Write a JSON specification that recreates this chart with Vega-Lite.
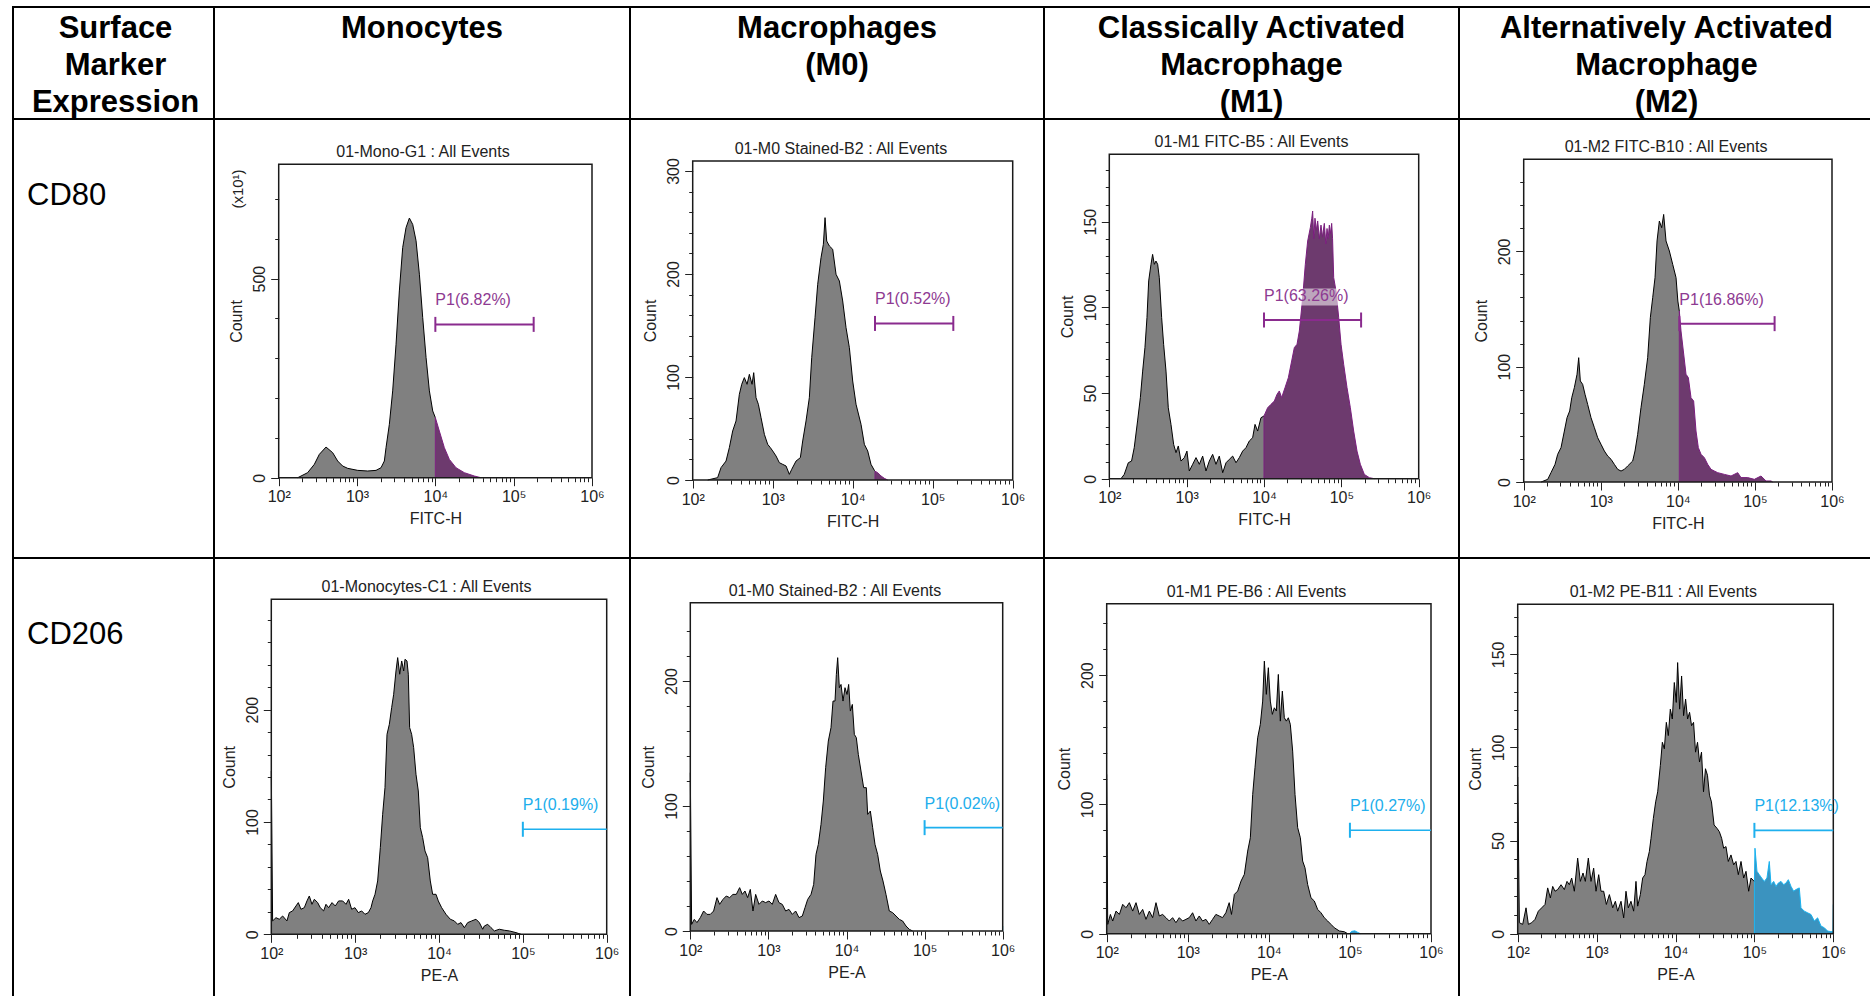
{
  "$schema": "https://vega.github.io/schema/vega-lite/v6.json",
  "background": "white",
  "padding": {"left": 12, "top": 6, "right": -18.5, "bottom": -12},
  "config": {
    "font": "Liberation Sans",
    "view": {"stroke": "#000000", "strokeWidth": 2},
    "concat": {"spacing": 0},
    "axis": {
      "domain": false, "grid": false, "labelFlush": false, "labelOverlap": false,
      "labelFont": "Liberation Sans", "titleFont": "Liberation Sans",
      "labelFontSize": 16, "titleFontSize": 16, "titleFontWeight": "normal",
      "labelColor": "#222222", "titleColor": "#222222", "tickColor": "#222222", "tickWidth": 1,
      "labelPadding": 3, "titlePadding": 6
    },
    "axisY": {"labelAngle": 270, "labelAlign": "center", "labelBaseline": "bottom", "titlePadding": 7}
  },
  "datasets": {
    "gates": [
      {"panel": "mono80", "title": "01-Mono-G1 : All Events", "start": 10000, "end": 180000, "level": 385, "label": "P1(6.82%)"},
      {"panel": "m080", "title": "01-M0 Stained-B2 : All Events", "start": 19000, "end": 181000, "level": 152, "label": "P1(0.52%)"},
      {"panel": "m180", "title": "01-M1 FITC-B5 : All Events", "start": 10000, "end": 180000, "level": 92.6, "label": "P1(63.26%)"},
      {"panel": "m280", "title": "01-M2 FITC-B10 : All Events", "start": 10450, "end": 180000, "level": 137.3, "label": "P1(16.86%)"},
      {"panel": "mono206", "title": "01-Monocytes-C1 : All Events", "start": 100000, "end": 1000000, "level": 93.5, "label": "P1(0.19%)"},
      {"panel": "m0206", "title": "01-M0 Stained-B2 : All Events", "start": 100000, "end": 1000000, "level": 82.7, "label": "P1(0.02%)"},
      {"panel": "m1206", "title": "01-M1 PE-B6 : All Events", "start": 100000, "end": 1000000, "level": 80, "label": "P1(0.27%)"},
      {"panel": "m2206", "title": "01-M2 PE-B11 : All Events", "start": 100000, "end": 1000000, "level": 55.5, "label": "P1(12.13%)"}
    ],
    "hist": [
      {"panel": "mono80", "part": "out", "x": 175, "count": 0},
      {"panel": "mono80", "part": "out", "x": 234, "count": 12.6},
      {"panel": "mono80", "part": "out", "x": 285, "count": 33.5},
      {"panel": "mono80", "part": "out", "x": 330, "count": 58.6},
      {"panel": "mono80", "part": "out", "x": 402, "count": 77},
      {"panel": "mono80", "part": "out", "x": 489, "count": 62.8},
      {"panel": "mono80", "part": "out", "x": 566, "count": 41.9},
      {"panel": "mono80", "part": "out", "x": 656, "count": 29.3},
      {"panel": "mono80", "part": "out", "x": 760, "count": 23.5},
      {"panel": "mono80", "part": "out", "x": 1020, "count": 18.4},
      {"panel": "mono80", "part": "out", "x": 1368, "count": 16.8},
      {"panel": "mono80", "part": "out", "x": 1749, "count": 18.4},
      {"panel": "mono80", "part": "out", "x": 2025, "count": 25.1},
      {"panel": "mono80", "part": "out", "x": 2233, "count": 41.9},
      {"panel": "mono80", "part": "out", "x": 2345, "count": 75.4},
      {"panel": "mono80", "part": "out", "x": 2587, "count": 134},
      {"panel": "mono80", "part": "out", "x": 2853, "count": 218},
      {"panel": "mono80", "part": "out", "x": 3148, "count": 335},
      {"panel": "mono80", "part": "out", "x": 3471, "count": 469},
      {"panel": "mono80", "part": "out", "x": 3829, "count": 578},
      {"panel": "mono80", "part": "out", "x": 4224, "count": 628},
      {"panel": "mono80", "part": "out", "x": 4660, "count": 652},
      {"panel": "mono80", "part": "out", "x": 5140, "count": 636},
      {"panel": "mono80", "part": "out", "x": 5670, "count": 595},
      {"panel": "mono80", "part": "out", "x": 6253, "count": 511},
      {"panel": "mono80", "part": "out", "x": 6898, "count": 402},
      {"panel": "mono80", "part": "out", "x": 7608, "count": 302},
      {"panel": "mono80", "part": "out", "x": 8392, "count": 218},
      {"panel": "mono80", "part": "out", "x": 9257, "count": 167.5},
      {"panel": "mono80", "part": "out", "x": 10000, "count": 150.8},
      {"panel": "mono80", "part": "fitc", "x": 10000, "count": 0},
      {"panel": "mono80", "part": "fitc", "x": 10000, "count": 150.8},
      {"panel": "mono80", "part": "fitc", "x": 11250, "count": 117},
      {"panel": "mono80", "part": "fitc", "x": 13030, "count": 75.4},
      {"panel": "mono80", "part": "fitc", "x": 15090, "count": 46},
      {"panel": "mono80", "part": "fitc", "x": 18360, "count": 25},
      {"panel": "mono80", "part": "fitc", "x": 23450, "count": 12.6},
      {"panel": "mono80", "part": "fitc", "x": 31460, "count": 4.2},
      {"panel": "mono80", "part": "fitc", "x": 38280, "count": 0},

      {"panel": "m080", "part": "out", "x": 154, "count": 0},
      {"panel": "m080", "part": "out", "x": 205, "count": 2.3},
      {"panel": "m080", "part": "out", "x": 226, "count": 12},
      {"panel": "m080", "part": "out", "x": 261, "count": 18.4},
      {"panel": "m080", "part": "out", "x": 287, "count": 31.4},
      {"panel": "m080", "part": "out", "x": 316, "count": 47.6},
      {"panel": "m080", "part": "out", "x": 348, "count": 57.3},
      {"panel": "m080", "part": "out", "x": 383, "count": 83.2},
      {"panel": "m080", "part": "out", "x": 410, "count": 92.9},
      {"panel": "m080", "part": "out", "x": 442, "count": 99.4},
      {"panel": "m080", "part": "out", "x": 478, "count": 92.9},
      {"panel": "m080", "part": "out", "x": 511, "count": 102.6},
      {"panel": "m080", "part": "out", "x": 552, "count": 92.9},
      {"panel": "m080", "part": "out", "x": 579, "count": 104.2},
      {"panel": "m080", "part": "out", "x": 619, "count": 79.9},
      {"panel": "m080", "part": "out", "x": 662, "count": 73.5},
      {"panel": "m080", "part": "out", "x": 715, "count": 60.5},
      {"panel": "m080", "part": "out", "x": 787, "count": 44.3},
      {"panel": "m080", "part": "out", "x": 866, "count": 34.6},
      {"panel": "m080", "part": "out", "x": 935, "count": 31.4},
      {"panel": "m080", "part": "out", "x": 1000, "count": 28.2},
      {"panel": "m080", "part": "out", "x": 1101, "count": 23.3},
      {"panel": "m080", "part": "out", "x": 1211, "count": 16.8},
      {"panel": "m080", "part": "out", "x": 1334, "count": 15.2},
      {"panel": "m080", "part": "out", "x": 1468, "count": 13.6},
      {"panel": "m080", "part": "out", "x": 1615, "count": 5.5},
      {"panel": "m080", "part": "out", "x": 1729, "count": 10.4},
      {"panel": "m080", "part": "out", "x": 1957, "count": 18.4},
      {"panel": "m080", "part": "out", "x": 2217, "count": 21.7},
      {"panel": "m080", "part": "out", "x": 2371, "count": 37.9},
      {"panel": "m080", "part": "out", "x": 2610, "count": 57.3},
      {"panel": "m080", "part": "out", "x": 2871, "count": 79.9},
      {"panel": "m080", "part": "out", "x": 3073, "count": 118.8},
      {"panel": "m080", "part": "out", "x": 3381, "count": 157.6},
      {"panel": "m080", "part": "out", "x": 3652, "count": 190},
      {"panel": "m080", "part": "out", "x": 4018, "count": 215.9},
      {"panel": "m080", "part": "out", "x": 4299, "count": 228.8},
      {"panel": "m080", "part": "out", "x": 4510, "count": 254.7},
      {"panel": "m080", "part": "out", "x": 4732, "count": 232},
      {"panel": "m080", "part": "out", "x": 5108, "count": 227.2},
      {"panel": "m080", "part": "out", "x": 5623, "count": 224},
      {"panel": "m080", "part": "out", "x": 6190, "count": 199.7},
      {"panel": "m080", "part": "out", "x": 6813, "count": 193.2},
      {"panel": "m080", "part": "out", "x": 7499, "count": 173.8},
      {"panel": "m080", "part": "out", "x": 8254, "count": 147.9},
      {"panel": "m080", "part": "out", "x": 9085, "count": 128.5},
      {"panel": "m080", "part": "out", "x": 10000, "count": 96.1},
      {"panel": "m080", "part": "out", "x": 11010, "count": 73.5},
      {"panel": "m080", "part": "out", "x": 12710, "count": 54},
      {"panel": "m080", "part": "out", "x": 13990, "count": 34.6},
      {"panel": "m080", "part": "out", "x": 15400, "count": 28.2},
      {"panel": "m080", "part": "out", "x": 16940, "count": 15.2},
      {"panel": "m080", "part": "out", "x": 18650, "count": 9.4},
      {"panel": "m080", "part": "out", "x": 19000, "count": 8.5},
      {"panel": "m080", "part": "fitc", "x": 19000, "count": 0},
      {"panel": "m080", "part": "fitc", "x": 19000, "count": 8.5},
      {"panel": "m080", "part": "fitc", "x": 20540, "count": 7.1},
      {"panel": "m080", "part": "fitc", "x": 22590, "count": 3.9},
      {"panel": "m080", "part": "fitc", "x": 24870, "count": 1.6},
      {"panel": "m080", "part": "fitc", "x": 27380, "count": 0},

      {"panel": "m180", "part": "out", "x": 141.5, "count": 0},
      {"panel": "m180", "part": "out", "x": 156, "count": 2.5},
      {"panel": "m180", "part": "out", "x": 176, "count": 9.3},
      {"panel": "m180", "part": "out", "x": 194, "count": 10.3},
      {"panel": "m180", "part": "out", "x": 210, "count": 18.1},
      {"panel": "m180", "part": "out", "x": 232, "count": 33.7},
      {"panel": "m180", "part": "out", "x": 252, "count": 47.3},
      {"panel": "m180", "part": "out", "x": 270, "count": 62.8},
      {"panel": "m180", "part": "out", "x": 289, "count": 76.5},
      {"panel": "m180", "part": "out", "x": 307, "count": 94},
      {"panel": "m180", "part": "out", "x": 323, "count": 115.4},
      {"panel": "m180", "part": "out", "x": 346, "count": 125.1},
      {"panel": "m180", "part": "out", "x": 363, "count": 130.9},
      {"panel": "m180", "part": "out", "x": 382, "count": 125.1},
      {"panel": "m180", "part": "out", "x": 401, "count": 127},
      {"panel": "m180", "part": "out", "x": 422, "count": 125.1},
      {"panel": "m180", "part": "out", "x": 443, "count": 117.3},
      {"panel": "m180", "part": "out", "x": 475, "count": 94},
      {"panel": "m180", "part": "out", "x": 504, "count": 78.4},
      {"panel": "m180", "part": "out", "x": 541, "count": 62.8},
      {"panel": "m180", "part": "out", "x": 579, "count": 41.4},
      {"panel": "m180", "part": "out", "x": 627, "count": 31.7},
      {"panel": "m180", "part": "out", "x": 679, "count": 20},
      {"panel": "m180", "part": "out", "x": 728, "count": 15.2},
      {"panel": "m180", "part": "out", "x": 780, "count": 19.1},
      {"panel": "m180", "part": "out", "x": 845, "count": 10.3},
      {"panel": "m180", "part": "out", "x": 933, "count": 12.3},
      {"panel": "m180", "part": "out", "x": 1009, "count": 16.1},
      {"panel": "m180", "part": "out", "x": 1082, "count": 4.5},
      {"panel": "m180", "part": "out", "x": 1196, "count": 8.4},
      {"panel": "m180", "part": "out", "x": 1321, "count": 12.3},
      {"panel": "m180", "part": "out", "x": 1459, "count": 8.4},
      {"panel": "m180", "part": "out", "x": 1611, "count": 13.2},
      {"panel": "m180", "part": "out", "x": 1778, "count": 4.5},
      {"panel": "m180", "part": "out", "x": 1963, "count": 10.3},
      {"panel": "m180", "part": "out", "x": 2168, "count": 14.2},
      {"panel": "m180", "part": "out", "x": 2394, "count": 8.4},
      {"panel": "m180", "part": "out", "x": 2643, "count": 13.2},
      {"panel": "m180", "part": "out", "x": 2924, "count": 3.5},
      {"panel": "m180", "part": "out", "x": 3228, "count": 9.3},
      {"panel": "m180", "part": "out", "x": 3565, "count": 11.3},
      {"panel": "m180", "part": "out", "x": 3936, "count": 13.2},
      {"panel": "m180", "part": "out", "x": 4345, "count": 9.3},
      {"panel": "m180", "part": "out", "x": 4797, "count": 12.3},
      {"panel": "m180", "part": "out", "x": 5297, "count": 16.1},
      {"panel": "m180", "part": "out", "x": 5848, "count": 18.1},
      {"panel": "m180", "part": "out", "x": 6457, "count": 22},
      {"panel": "m180", "part": "out", "x": 7129, "count": 23.9},
      {"panel": "m180", "part": "out", "x": 7656, "count": 31.7},
      {"panel": "m180", "part": "out", "x": 8282, "count": 27.8},
      {"panel": "m180", "part": "out", "x": 9144, "count": 35.6},
      {"panel": "m180", "part": "out", "x": 10000, "count": 36.6},
      {"panel": "m180", "part": "fitc", "x": 10000, "count": 0},
      {"panel": "m180", "part": "fitc", "x": 10000, "count": 36.6},
      {"panel": "m180", "part": "fitc", "x": 11140, "count": 41.4},
      {"panel": "m180", "part": "fitc", "x": 12320, "count": 43.4},
      {"panel": "m180", "part": "fitc", "x": 13600, "count": 45.3},
      {"panel": "m180", "part": "fitc", "x": 14720, "count": 49.2},
      {"panel": "m180", "part": "fitc", "x": 15780, "count": 51.2},
      {"panel": "m180", "part": "fitc", "x": 16910, "count": 47.3},
      {"panel": "m180", "part": "fitc", "x": 18690, "count": 53.1},
      {"panel": "m180", "part": "fitc", "x": 20640, "count": 58.9},
      {"panel": "m180", "part": "fitc", "x": 22790, "count": 68.7},
      {"panel": "m180", "part": "fitc", "x": 24670, "count": 76.5},
      {"panel": "m180", "part": "fitc", "x": 26720, "count": 78.4},
      {"panel": "m180", "part": "fitc", "x": 28640, "count": 86.2},
      {"panel": "m180", "part": "fitc", "x": 31620, "count": 105.6},
      {"panel": "m180", "part": "fitc", "x": 34220, "count": 125.1},
      {"panel": "m180", "part": "fitc", "x": 36700, "count": 138.7},
      {"panel": "m180", "part": "fitc", "x": 39720, "count": 146.5},
      {"panel": "m180", "part": "fitc", "x": 41500, "count": 152},
      {"panel": "m180", "part": "fitc", "x": 42560, "count": 156.2},
      {"panel": "m180", "part": "fitc", "x": 44000, "count": 140},
      {"panel": "m180", "part": "fitc", "x": 45600, "count": 152},
      {"panel": "m180", "part": "fitc", "x": 47500, "count": 145},
      {"panel": "m180", "part": "fitc", "x": 49420, "count": 150.4},
      {"panel": "m180", "part": "fitc", "x": 52000, "count": 140},
      {"panel": "m180", "part": "fitc", "x": 54550, "count": 148},
      {"panel": "m180", "part": "fitc", "x": 57000, "count": 141},
      {"panel": "m180", "part": "fitc", "x": 60230, "count": 149},
      {"panel": "m180", "part": "fitc", "x": 63000, "count": 137},
      {"panel": "m180", "part": "fitc", "x": 65270, "count": 146},
      {"panel": "m180", "part": "fitc", "x": 67500, "count": 140},
      {"panel": "m180", "part": "fitc", "x": 69950, "count": 148},
      {"panel": "m180", "part": "fitc", "x": 72500, "count": 143},
      {"panel": "m180", "part": "fitc", "x": 74990, "count": 149},
      {"panel": "m180", "part": "fitc", "x": 77000, "count": 140},
      {"panel": "m180", "part": "fitc", "x": 79620, "count": 117.3},
      {"panel": "m180", "part": "fitc", "x": 85320, "count": 109.5},
      {"panel": "m180", "part": "fitc", "x": 92400, "count": 94},
      {"panel": "m180", "part": "fitc", "x": 99100, "count": 78.4},
      {"panel": "m180", "part": "fitc", "x": 107200, "count": 66.7},
      {"panel": "m180", "part": "fitc", "x": 118400, "count": 53.1},
      {"panel": "m180", "part": "fitc", "x": 130700, "count": 41.4},
      {"panel": "m180", "part": "fitc", "x": 144300, "count": 27.8},
      {"panel": "m180", "part": "fitc", "x": 159400, "count": 16.1},
      {"panel": "m180", "part": "fitc", "x": 176000, "count": 8.4},
      {"panel": "m180", "part": "fitc", "x": 198300, "count": 2.5},
      {"panel": "m180", "part": "fitc", "x": 230100, "count": 0.6},
      {"panel": "m180", "part": "fitc", "x": 267300, "count": 0},

      {"panel": "m280", "part": "out", "x": 168, "count": 0},
      {"panel": "m280", "part": "out", "x": 205, "count": 2.3},
      {"panel": "m280", "part": "out", "x": 226, "count": 8.1},
      {"panel": "m280", "part": "out", "x": 255, "count": 15.3},
      {"panel": "m280", "part": "out", "x": 276, "count": 24},
      {"panel": "m280", "part": "out", "x": 305, "count": 29.8},
      {"panel": "m280", "part": "out", "x": 337, "count": 44.2},
      {"panel": "m280", "part": "out", "x": 365, "count": 55.8},
      {"panel": "m280", "part": "out", "x": 395, "count": 61.6},
      {"panel": "m280", "part": "out", "x": 420, "count": 73.1},
      {"panel": "m280", "part": "out", "x": 454, "count": 81.8},
      {"panel": "m280", "part": "out", "x": 492, "count": 93.4},
      {"panel": "m280", "part": "out", "x": 517, "count": 107.8},
      {"panel": "m280", "part": "out", "x": 543, "count": 87.6},
      {"panel": "m280", "part": "out", "x": 582, "count": 84.7},
      {"panel": "m280", "part": "out", "x": 625, "count": 76},
      {"panel": "m280", "part": "out", "x": 676, "count": 67.3},
      {"panel": "m280", "part": "out", "x": 747, "count": 55.8},
      {"panel": "m280", "part": "out", "x": 826, "count": 47.1},
      {"panel": "m280", "part": "out", "x": 912, "count": 38.4},
      {"panel": "m280", "part": "out", "x": 1007, "count": 32.7},
      {"panel": "m280", "part": "out", "x": 1113, "count": 26.9},
      {"panel": "m280", "part": "out", "x": 1230, "count": 22.5},
      {"panel": "m280", "part": "out", "x": 1358, "count": 19.7},
      {"panel": "m280", "part": "out", "x": 1500, "count": 15.3},
      {"panel": "m280", "part": "out", "x": 1657, "count": 11},
      {"panel": "m280", "part": "out", "x": 1831, "count": 9.5},
      {"panel": "m280", "part": "out", "x": 2023, "count": 11},
      {"panel": "m280", "part": "out", "x": 2234, "count": 13.9},
      {"panel": "m280", "part": "out", "x": 2594, "count": 18.2},
      {"panel": "m280", "part": "out", "x": 2780, "count": 26.9},
      {"panel": "m280", "part": "out", "x": 3010, "count": 41.3},
      {"panel": "m280", "part": "out", "x": 3325, "count": 64.5},
      {"panel": "m280", "part": "out", "x": 3673, "count": 84.7},
      {"panel": "m280", "part": "out", "x": 4059, "count": 107.8},
      {"panel": "m280", "part": "out", "x": 4396, "count": 142.5},
      {"panel": "m280", "part": "out", "x": 4716, "count": 159.8},
      {"panel": "m280", "part": "out", "x": 5057, "count": 177.2},
      {"panel": "m280", "part": "out", "x": 5370, "count": 209},
      {"panel": "m280", "part": "out", "x": 5755, "count": 226.3},
      {"panel": "m280", "part": "out", "x": 6171, "count": 220.5},
      {"panel": "m280", "part": "out", "x": 6546, "count": 232},
      {"panel": "m280", "part": "out", "x": 7023, "count": 209},
      {"panel": "m280", "part": "out", "x": 7762, "count": 200.3},
      {"panel": "m280", "part": "out", "x": 8575, "count": 188.7},
      {"panel": "m280", "part": "out", "x": 9472, "count": 177.2},
      {"panel": "m280", "part": "out", "x": 10000, "count": 156.9},
      {"panel": "m280", "part": "out", "x": 10450, "count": 148.3},
      {"panel": "m280", "part": "fitc", "x": 10450, "count": 0},
      {"panel": "m280", "part": "fitc", "x": 10450, "count": 148.3},
      {"panel": "m280", "part": "fitc", "x": 10990, "count": 130.9},
      {"panel": "m280", "part": "fitc", "x": 11780, "count": 113.6},
      {"panel": "m280", "part": "fitc", "x": 12760, "count": 93.4},
      {"panel": "m280", "part": "fitc", "x": 13680, "count": 90.5},
      {"panel": "m280", "part": "fitc", "x": 14820, "count": 73.1},
      {"panel": "m280", "part": "fitc", "x": 16030, "count": 70.2},
      {"panel": "m280", "part": "fitc", "x": 17200, "count": 44.2},
      {"panel": "m280", "part": "fitc", "x": 18440, "count": 29.8},
      {"panel": "m280", "part": "fitc", "x": 19990, "count": 24},
      {"panel": "m280", "part": "fitc", "x": 22080, "count": 21.1},
      {"panel": "m280", "part": "fitc", "x": 24390, "count": 15.3},
      {"panel": "m280", "part": "fitc", "x": 26940, "count": 11},
      {"panel": "m280", "part": "fitc", "x": 29760, "count": 9.5},
      {"panel": "m280", "part": "fitc", "x": 32870, "count": 8.1},
      {"panel": "m280", "part": "fitc", "x": 40120, "count": 6.6},
      {"panel": "m280", "part": "fitc", "x": 48970, "count": 5.2},
      {"panel": "m280", "part": "fitc", "x": 59760, "count": 8.1},
      {"panel": "m280", "part": "fitc", "x": 66000, "count": 3.8},
      {"panel": "m280", "part": "fitc", "x": 80540, "count": 3.8},
      {"panel": "m280", "part": "fitc", "x": 98270, "count": 2.3},
      {"panel": "m280", "part": "fitc", "x": 119900, "count": 5.2},
      {"panel": "m280", "part": "fitc", "x": 139300, "count": 0.9},
      {"panel": "m280", "part": "fitc", "x": 161800, "count": 0.9},
      {"panel": "m280", "part": "fitc", "x": 169900, "count": 0},

      {"panel": "mono206", "part": "out", "x": 100, "count": 145.4},
      {"panel": "mono206", "part": "out", "x": 103.7, "count": 11.9},
      {"panel": "mono206", "part": "out", "x": 113.7, "count": 14.8},
      {"panel": "mono206", "part": "out", "x": 124.6, "count": 13.4},
      {"panel": "mono206", "part": "out", "x": 136.5, "count": 16.3},
      {"panel": "mono206", "part": "out", "x": 153.7, "count": 11.9},
      {"panel": "mono206", "part": "out", "x": 164, "count": 19.3},
      {"panel": "mono206", "part": "out", "x": 179.6, "count": 20.8},
      {"panel": "mono206", "part": "out", "x": 196.8, "count": 25.2},
      {"panel": "mono206", "part": "out", "x": 209.9, "count": 28.2},
      {"panel": "mono206", "part": "out", "x": 225.9, "count": 22.3},
      {"panel": "mono206", "part": "out", "x": 247.5, "count": 23.7},
      {"panel": "mono206", "part": "out", "x": 266.3, "count": 29.7},
      {"panel": "mono206", "part": "out", "x": 284, "count": 34.1},
      {"panel": "mono206", "part": "out", "x": 305.5, "count": 26.7},
      {"panel": "mono206", "part": "out", "x": 326, "count": 31.2},
      {"panel": "mono206", "part": "out", "x": 357, "count": 28.2},
      {"panel": "mono206", "part": "out", "x": 383.8, "count": 23.7},
      {"panel": "mono206", "part": "out", "x": 420.9, "count": 20.8},
      {"panel": "mono206", "part": "out", "x": 448.7, "count": 26.7},
      {"panel": "mono206", "part": "out", "x": 482.8, "count": 23.7},
      {"panel": "mono206", "part": "out", "x": 529.6, "count": 28.2},
      {"panel": "mono206", "part": "out", "x": 579.8, "count": 25.2},
      {"panel": "mono206", "part": "out", "x": 635.4, "count": 29.7},
      {"panel": "mono206", "part": "out", "x": 709.5, "count": 29.7},
      {"panel": "mono206", "part": "out", "x": 777.5, "count": 26.7},
      {"panel": "mono206", "part": "out", "x": 836.4, "count": 31.2},
      {"panel": "mono206", "part": "out", "x": 907.8, "count": 22.3},
      {"panel": "mono206", "part": "out", "x": 995, "count": 23.7},
      {"panel": "mono206", "part": "out", "x": 1091, "count": 19.3},
      {"panel": "mono206", "part": "out", "x": 1196, "count": 20.8},
      {"panel": "mono206", "part": "out", "x": 1310, "count": 17.8},
      {"panel": "mono206", "part": "out", "x": 1436, "count": 19.3},
      {"panel": "mono206", "part": "out", "x": 1545, "count": 23.7},
      {"panel": "mono206", "part": "out", "x": 1618, "count": 29.7},
      {"panel": "mono206", "part": "out", "x": 1726, "count": 35.6},
      {"panel": "mono206", "part": "out", "x": 1855, "count": 47.5},
      {"panel": "mono206", "part": "out", "x": 1996, "count": 77.2},
      {"panel": "mono206", "part": "out", "x": 2128, "count": 106.8},
      {"panel": "mono206", "part": "out", "x": 2269, "count": 130.6},
      {"panel": "mono206", "part": "out", "x": 2398, "count": 178},
      {"panel": "mono206", "part": "out", "x": 2557, "count": 186.9},
      {"panel": "mono206", "part": "out", "x": 2726, "count": 201.8},
      {"panel": "mono206", "part": "out", "x": 2880, "count": 213.6},
      {"panel": "mono206", "part": "out", "x": 3070, "count": 234.4},
      {"panel": "mono206", "part": "out", "x": 3215, "count": 246.3},
      {"panel": "mono206", "part": "out", "x": 3398, "count": 231.5},
      {"panel": "mono206", "part": "out", "x": 3590, "count": 243.3},
      {"panel": "mono206", "part": "out", "x": 3793, "count": 234.4},
      {"panel": "mono206", "part": "out", "x": 3930, "count": 244.8},
      {"panel": "mono206", "part": "out", "x": 4152, "count": 243.3},
      {"panel": "mono206", "part": "out", "x": 4305, "count": 231.5},
      {"panel": "mono206", "part": "out", "x": 4465, "count": 184},
      {"panel": "mono206", "part": "out", "x": 4718, "count": 178},
      {"panel": "mono206", "part": "out", "x": 4985, "count": 166.2},
      {"panel": "mono206", "part": "out", "x": 5317, "count": 142.4},
      {"panel": "mono206", "part": "out", "x": 5665, "count": 127.6},
      {"panel": "mono206", "part": "out", "x": 5985, "count": 95},
      {"panel": "mono206", "part": "out", "x": 6383, "count": 86.1},
      {"panel": "mono206", "part": "out", "x": 6807, "count": 74.2},
      {"panel": "mono206", "part": "out", "x": 7323, "count": 68.2},
      {"panel": "mono206", "part": "out", "x": 7877, "count": 47.5},
      {"panel": "mono206", "part": "out", "x": 8400, "count": 35.6},
      {"panel": "mono206", "part": "out", "x": 9207, "count": 35.6},
      {"panel": "mono206", "part": "out", "x": 9816, "count": 29.7},
      {"panel": "mono206", "part": "out", "x": 10760, "count": 23.7},
      {"panel": "mono206", "part": "out", "x": 12110, "count": 17.8},
      {"panel": "mono206", "part": "out", "x": 13640, "count": 13.4},
      {"panel": "mono206", "part": "out", "x": 15230, "count": 11.9},
      {"panel": "mono206", "part": "out", "x": 16700, "count": 8.9},
      {"panel": "mono206", "part": "out", "x": 18300, "count": 10.4},
      {"panel": "mono206", "part": "out", "x": 20060, "count": 5.9},
      {"panel": "mono206", "part": "out", "x": 21990, "count": 10.4},
      {"panel": "mono206", "part": "out", "x": 24540, "count": 11.9},
      {"panel": "mono206", "part": "out", "x": 27630, "count": 13.4},
      {"panel": "mono206", "part": "out", "x": 30290, "count": 10.4},
      {"panel": "mono206", "part": "out", "x": 33200, "count": 4.5},
      {"panel": "mono206", "part": "out", "x": 34750, "count": 7.4},
      {"panel": "mono206", "part": "out", "x": 38090, "count": 8.9},
      {"panel": "mono206", "part": "out", "x": 41730, "count": 5.9},
      {"panel": "mono206", "part": "out", "x": 45740, "count": 3},
      {"panel": "mono206", "part": "out", "x": 52460, "count": 4.5},
      {"panel": "mono206", "part": "out", "x": 60140, "count": 3.6},
      {"panel": "mono206", "part": "out", "x": 69000, "count": 3},
      {"panel": "mono206", "part": "out", "x": 82800, "count": 1.5},
      {"panel": "mono206", "part": "out", "x": 95100, "count": 0},

      {"panel": "m0206", "part": "out", "x": 100, "count": 126.7},
      {"panel": "m0206", "part": "out", "x": 104, "count": 5.3},
      {"panel": "m0206", "part": "out", "x": 112.5, "count": 9.3},
      {"panel": "m0206", "part": "out", "x": 121.7, "count": 6.7},
      {"panel": "m0206", "part": "out", "x": 134.3, "count": 10.7},
      {"panel": "m0206", "part": "out", "x": 148.1, "count": 16},
      {"panel": "m0206", "part": "out", "x": 163.5, "count": 13.3},
      {"panel": "m0206", "part": "out", "x": 180.4, "count": 13.3},
      {"panel": "m0206", "part": "out", "x": 199, "count": 16},
      {"panel": "m0206", "part": "out", "x": 219.6, "count": 26.7},
      {"panel": "m0206", "part": "out", "x": 237.5, "count": 21.3},
      {"panel": "m0206", "part": "out", "x": 262, "count": 25.3},
      {"panel": "m0206", "part": "out", "x": 289.1, "count": 28},
      {"panel": "m0206", "part": "out", "x": 318.9, "count": 26.7},
      {"panel": "m0206", "part": "out", "x": 351.9, "count": 29.3},
      {"panel": "m0206", "part": "out", "x": 388.2, "count": 29.3},
      {"panel": "m0206", "part": "out", "x": 428.3, "count": 34.7},
      {"panel": "m0206", "part": "out", "x": 463.3, "count": 29.3},
      {"panel": "m0206", "part": "out", "x": 501.2, "count": 32},
      {"panel": "m0206", "part": "out", "x": 542.2, "count": 26.7},
      {"panel": "m0206", "part": "out", "x": 586.6, "count": 33.3},
      {"panel": "m0206", "part": "out", "x": 634.6, "count": 16},
      {"panel": "m0206", "part": "out", "x": 686.5, "count": 29.3},
      {"panel": "m0206", "part": "out", "x": 757.4, "count": 21.3},
      {"panel": "m0206", "part": "out", "x": 835.6, "count": 24},
      {"panel": "m0206", "part": "out", "x": 922, "count": 22.7},
      {"panel": "m0206", "part": "out", "x": 1017, "count": 24},
      {"panel": "m0206", "part": "out", "x": 1122, "count": 21.3},
      {"panel": "m0206", "part": "out", "x": 1238, "count": 29.3},
      {"panel": "m0206", "part": "out", "x": 1366, "count": 22.7},
      {"panel": "m0206", "part": "out", "x": 1507, "count": 21.3},
      {"panel": "m0206", "part": "out", "x": 1663, "count": 16},
      {"panel": "m0206", "part": "out", "x": 1835, "count": 17.3},
      {"panel": "m0206", "part": "out", "x": 2024, "count": 13.3},
      {"panel": "m0206", "part": "out", "x": 2233, "count": 16},
      {"panel": "m0206", "part": "out", "x": 2464, "count": 10.7},
      {"panel": "m0206", "part": "out", "x": 2718, "count": 12},
      {"panel": "m0206", "part": "out", "x": 2942, "count": 18.7},
      {"panel": "m0206", "part": "out", "x": 3183, "count": 25.3},
      {"panel": "m0206", "part": "out", "x": 3512, "count": 29.3},
      {"panel": "m0206", "part": "out", "x": 3800, "count": 37.3},
      {"panel": "m0206", "part": "out", "x": 4068, "count": 61.3},
      {"panel": "m0206", "part": "out", "x": 4357, "count": 69.3},
      {"panel": "m0206", "part": "out", "x": 4714, "count": 85.3},
      {"panel": "m0206", "part": "out", "x": 5049, "count": 104},
      {"panel": "m0206", "part": "out", "x": 5408, "count": 130.7},
      {"panel": "m0206", "part": "out", "x": 5851, "count": 152},
      {"panel": "m0206", "part": "out", "x": 6330, "count": 162.7},
      {"panel": "m0206", "part": "out", "x": 6719, "count": 184},
      {"panel": "m0206", "part": "out", "x": 7126, "count": 184},
      {"panel": "m0206", "part": "out", "x": 7413, "count": 205.3},
      {"panel": "m0206", "part": "out", "x": 7710, "count": 218.7},
      {"panel": "m0206", "part": "out", "x": 8095, "count": 194.7},
      {"panel": "m0206", "part": "out", "x": 8508, "count": 197.3},
      {"panel": "m0206", "part": "out", "x": 9023, "count": 184},
      {"panel": "m0206", "part": "out", "x": 9569, "count": 194.7},
      {"panel": "m0206", "part": "out", "x": 10150, "count": 189.3},
      {"panel": "m0206", "part": "out", "x": 10660, "count": 197.3},
      {"panel": "m0206", "part": "out", "x": 11200, "count": 176},
      {"panel": "m0206", "part": "out", "x": 11880, "count": 181.3},
      {"panel": "m0206", "part": "out", "x": 12600, "count": 157.3},
      {"panel": "m0206", "part": "out", "x": 13360, "count": 154.7},
      {"panel": "m0206", "part": "out", "x": 14170, "count": 141.3},
      {"panel": "m0206", "part": "out", "x": 15330, "count": 128},
      {"panel": "m0206", "part": "out", "x": 16590, "count": 114.7},
      {"panel": "m0206", "part": "out", "x": 17950, "count": 114.7},
      {"panel": "m0206", "part": "out", "x": 18670, "count": 93.3},
      {"panel": "m0206", "part": "out", "x": 20200, "count": 96},
      {"panel": "m0206", "part": "out", "x": 21630, "count": 82.7},
      {"panel": "m0206", "part": "out", "x": 23170, "count": 69.3},
      {"panel": "m0206", "part": "out", "x": 25060, "count": 61.3},
      {"panel": "m0206", "part": "out", "x": 27110, "count": 48},
      {"panel": "m0206", "part": "out", "x": 29320, "count": 40},
      {"panel": "m0206", "part": "out", "x": 32030, "count": 29.3},
      {"panel": "m0206", "part": "out", "x": 35330, "count": 16},
      {"panel": "m0206", "part": "out", "x": 38980, "count": 14.7},
      {"panel": "m0206", "part": "out", "x": 43010, "count": 12},
      {"panel": "m0206", "part": "out", "x": 47500, "count": 9.3},
      {"panel": "m0206", "part": "out", "x": 52330, "count": 8},
      {"panel": "m0206", "part": "out", "x": 57790, "count": 4},
      {"panel": "m0206", "part": "out", "x": 63810, "count": 1.3},
      {"panel": "m0206", "part": "out", "x": 70340, "count": 0},
      {"panel": "m0206", "part": "pe", "x": 1000000, "count": 0},
      {"panel": "m0206", "part": "pe", "x": 1000000, "count": 4},

      {"panel": "m1206", "part": "out", "x": 100, "count": 123.2},
      {"panel": "m1206", "part": "out", "x": 102.9, "count": 7.2},
      {"panel": "m1206", "part": "out", "x": 111, "count": 14.9},
      {"panel": "m1206", "part": "out", "x": 118.6, "count": 9.8},
      {"panel": "m1206", "part": "out", "x": 130.4, "count": 17.5},
      {"panel": "m1206", "part": "out", "x": 143.3, "count": 14.9},
      {"panel": "m1206", "part": "out", "x": 157.5, "count": 22.7},
      {"panel": "m1206", "part": "out", "x": 173.1, "count": 20.1},
      {"panel": "m1206", "part": "out", "x": 190.3, "count": 24},
      {"panel": "m1206", "part": "out", "x": 209.2, "count": 17.5},
      {"panel": "m1206", "part": "out", "x": 229.9, "count": 24},
      {"panel": "m1206", "part": "out", "x": 252.7, "count": 14.9},
      {"panel": "m1206", "part": "out", "x": 277.7, "count": 18.8},
      {"panel": "m1206", "part": "out", "x": 305.3, "count": 11.1},
      {"panel": "m1206", "part": "out", "x": 335.6, "count": 17.5},
      {"panel": "m1206", "part": "out", "x": 368.8, "count": 12.4},
      {"panel": "m1206", "part": "out", "x": 405.4, "count": 24},
      {"panel": "m1206", "part": "out", "x": 445.6, "count": 13.7},
      {"panel": "m1206", "part": "out", "x": 489.7, "count": 14.9},
      {"panel": "m1206", "part": "out", "x": 538.3, "count": 12.4},
      {"panel": "m1206", "part": "out", "x": 591.6, "count": 9.8},
      {"panel": "m1206", "part": "out", "x": 650.3, "count": 12.4},
      {"panel": "m1206", "part": "out", "x": 714.8, "count": 8.5},
      {"panel": "m1206", "part": "out", "x": 785.6, "count": 12.4},
      {"panel": "m1206", "part": "out", "x": 863.5, "count": 9.8},
      {"panel": "m1206", "part": "out", "x": 949.2, "count": 11.1},
      {"panel": "m1206", "part": "out", "x": 1043, "count": 12.4},
      {"panel": "m1206", "part": "out", "x": 1147, "count": 16.2},
      {"panel": "m1206", "part": "out", "x": 1260, "count": 9.8},
      {"panel": "m1206", "part": "out", "x": 1385, "count": 13.7},
      {"panel": "m1206", "part": "out", "x": 1523, "count": 9.8},
      {"panel": "m1206", "part": "out", "x": 1674, "count": 11.1},
      {"panel": "m1206", "part": "out", "x": 1840, "count": 7.2},
      {"panel": "m1206", "part": "out", "x": 2022, "count": 11.1},
      {"panel": "m1206", "part": "out", "x": 2222, "count": 14.9},
      {"panel": "m1206", "part": "out", "x": 2442, "count": 13.7},
      {"panel": "m1206", "part": "out", "x": 2684, "count": 12.4},
      {"panel": "m1206", "part": "out", "x": 2950, "count": 16.2},
      {"panel": "m1206", "part": "out", "x": 3243, "count": 24},
      {"panel": "m1206", "part": "out", "x": 3461, "count": 14.9},
      {"panel": "m1206", "part": "out", "x": 3756, "count": 30.4},
      {"panel": "m1206", "part": "out", "x": 4128, "count": 33},
      {"panel": "m1206", "part": "out", "x": 4537, "count": 40.7},
      {"panel": "m1206", "part": "out", "x": 4987, "count": 45.9},
      {"panel": "m1206", "part": "out", "x": 5481, "count": 63.9},
      {"panel": "m1206", "part": "out", "x": 5912, "count": 74.2},
      {"panel": "m1206", "part": "out", "x": 6320, "count": 107.7},
      {"panel": "m1206", "part": "out", "x": 6747, "count": 128.4},
      {"panel": "m1206", "part": "out", "x": 7278, "count": 151.5},
      {"panel": "m1206", "part": "out", "x": 7850, "count": 161.9},
      {"panel": "m1206", "part": "out", "x": 8392, "count": 179.9},
      {"panel": "m1206", "part": "out", "x": 8800, "count": 210.8},
      {"panel": "m1206", "part": "out", "x": 9312, "count": 185.1},
      {"panel": "m1206", "part": "out", "x": 9860, "count": 205.7},
      {"panel": "m1206", "part": "out", "x": 10430, "count": 179.9},
      {"panel": "m1206", "part": "out", "x": 11040, "count": 169.6},
      {"panel": "m1206", "part": "out", "x": 11680, "count": 174.7},
      {"panel": "m1206", "part": "out", "x": 12370, "count": 172.2},
      {"panel": "m1206", "part": "out", "x": 13090, "count": 200.5},
      {"panel": "m1206", "part": "out", "x": 13860, "count": 164.4},
      {"panel": "m1206", "part": "out", "x": 14670, "count": 187.6},
      {"panel": "m1206", "part": "out", "x": 15520, "count": 167},
      {"panel": "m1206", "part": "out", "x": 16430, "count": 164.4},
      {"panel": "m1206", "part": "out", "x": 17390, "count": 167},
      {"panel": "m1206", "part": "out", "x": 18400, "count": 161.9},
      {"panel": "m1206", "part": "out", "x": 19670, "count": 141.2},
      {"panel": "m1206", "part": "out", "x": 21030, "count": 107.7},
      {"panel": "m1206", "part": "out", "x": 22680, "count": 82},
      {"panel": "m1206", "part": "out", "x": 24460, "count": 74.2},
      {"panel": "m1206", "part": "out", "x": 26120, "count": 56.2},
      {"panel": "m1206", "part": "out", "x": 27900, "count": 51},
      {"panel": "m1206", "part": "out", "x": 30100, "count": 38.1},
      {"panel": "m1206", "part": "out", "x": 33080, "count": 27.8},
      {"panel": "m1206", "part": "out", "x": 36360, "count": 25.3},
      {"panel": "m1206", "part": "out", "x": 39960, "count": 18.8},
      {"panel": "m1206", "part": "out", "x": 43920, "count": 16.2},
      {"panel": "m1206", "part": "out", "x": 48270, "count": 12.4},
      {"panel": "m1206", "part": "out", "x": 53160, "count": 9.8},
      {"panel": "m1206", "part": "out", "x": 58430, "count": 7.2},
      {"panel": "m1206", "part": "out", "x": 64220, "count": 4.6},
      {"panel": "m1206", "part": "out", "x": 74070, "count": 2.1},
      {"panel": "m1206", "part": "out", "x": 85340, "count": 1.5},
      {"panel": "m1206", "part": "out", "x": 93770, "count": 0},
      {"panel": "m1206", "part": "pe", "x": 100000, "count": 0},
      {"panel": "m1206", "part": "pe", "x": 100000, "count": 0.5},
      {"panel": "m1206", "part": "pe", "x": 105000, "count": 1.8},
      {"panel": "m1206", "part": "pe", "x": 115000, "count": 2.2},
      {"panel": "m1206", "part": "pe", "x": 125000, "count": 1},
      {"panel": "m1206", "part": "pe", "x": 135000, "count": 0},

      {"panel": "m2206", "part": "out", "x": 100, "count": 84.2},
      {"panel": "m2206", "part": "out", "x": 105, "count": 5.9},
      {"panel": "m2206", "part": "out", "x": 115.7, "count": 5},
      {"panel": "m2206", "part": "out", "x": 127.5, "count": 13.9},
      {"panel": "m2206", "part": "out", "x": 136.5, "count": 5},
      {"panel": "m2206", "part": "out", "x": 150.4, "count": 5.9},
      {"panel": "m2206", "part": "out", "x": 165.8, "count": 7.7},
      {"panel": "m2206", "part": "out", "x": 182.7, "count": 12.1},
      {"panel": "m2206", "part": "out", "x": 201.4, "count": 13.9},
      {"panel": "m2206", "part": "out", "x": 222, "count": 15.7},
      {"panel": "m2206", "part": "out", "x": 239.9, "count": 24.6},
      {"panel": "m2206", "part": "out", "x": 259.4, "count": 19.2},
      {"panel": "m2206", "part": "out", "x": 277.7, "count": 25.4},
      {"panel": "m2206", "part": "out", "x": 297.2, "count": 22.8},
      {"panel": "m2206", "part": "out", "x": 321.2, "count": 23.7},
      {"panel": "m2206", "part": "out", "x": 354, "count": 26.3},
      {"panel": "m2206", "part": "out", "x": 390.2, "count": 23.7},
      {"panel": "m2206", "part": "out", "x": 421.7, "count": 28.1},
      {"panel": "m2206", "part": "out", "x": 451.6, "count": 26.3},
      {"panel": "m2206", "part": "out", "x": 483.1, "count": 29.9},
      {"panel": "m2206", "part": "out", "x": 522.2, "count": 22.8},
      {"panel": "m2206", "part": "out", "x": 575.5, "count": 40.6},
      {"panel": "m2206", "part": "out", "x": 622.1, "count": 28.1},
      {"panel": "m2206", "part": "out", "x": 672.5, "count": 32.6},
      {"panel": "m2206", "part": "out", "x": 719.6, "count": 28.1},
      {"panel": "m2206", "part": "out", "x": 785.6, "count": 40.6},
      {"panel": "m2206", "part": "out", "x": 849.1, "count": 28.1},
      {"panel": "m2206", "part": "out", "x": 917.8, "count": 35.2},
      {"panel": "m2206", "part": "out", "x": 983.5, "count": 22.8},
      {"panel": "m2206", "part": "out", "x": 1063, "count": 31.7},
      {"panel": "m2206", "part": "out", "x": 1137, "count": 22.8},
      {"panel": "m2206", "part": "out", "x": 1229, "count": 22.8},
      {"panel": "m2206", "part": "out", "x": 1329, "count": 15.7},
      {"panel": "m2206", "part": "out", "x": 1452, "count": 21},
      {"panel": "m2206", "part": "out", "x": 1600, "count": 13.9},
      {"panel": "m2206", "part": "out", "x": 1729, "count": 17.4},
      {"panel": "m2206", "part": "out", "x": 1850, "count": 12.1},
      {"panel": "m2206", "part": "out", "x": 2039, "count": 17.4},
      {"panel": "m2206", "part": "out", "x": 2204, "count": 8.5},
      {"panel": "m2206", "part": "out", "x": 2358, "count": 22.8},
      {"panel": "m2206", "part": "out", "x": 2523, "count": 13.9},
      {"panel": "m2206", "part": "out", "x": 2727, "count": 17.4},
      {"panel": "m2206", "part": "out", "x": 2948, "count": 12.1},
      {"panel": "m2206", "part": "out", "x": 3155, "count": 28.1},
      {"panel": "m2206", "part": "out", "x": 3316, "count": 14.8},
      {"panel": "m2206", "part": "out", "x": 3584, "count": 21},
      {"panel": "m2206", "part": "out", "x": 3835, "count": 29.9},
      {"panel": "m2206", "part": "out", "x": 4104, "count": 31.7},
      {"panel": "m2206", "part": "out", "x": 4355, "count": 38.8},
      {"panel": "m2206", "part": "out", "x": 4661, "count": 44.1},
      {"panel": "m2206", "part": "out", "x": 4893, "count": 51.2},
      {"panel": "m2206", "part": "out", "x": 5237, "count": 61.9},
      {"panel": "m2206", "part": "out", "x": 5605, "count": 70.8},
      {"panel": "m2206", "part": "out", "x": 5946, "count": 76.2},
      {"panel": "m2206", "part": "out", "x": 6428, "count": 90.4},
      {"panel": "m2206", "part": "out", "x": 6813, "count": 102.8},
      {"panel": "m2206", "part": "out", "x": 7221, "count": 99.3},
      {"panel": "m2206", "part": "out", "x": 7653, "count": 113.5},
      {"panel": "m2206", "part": "out", "x": 8111, "count": 106.4},
      {"panel": "m2206", "part": "out", "x": 8596, "count": 120.6},
      {"panel": "m2206", "part": "out", "x": 9110, "count": 115.3},
      {"panel": "m2206", "part": "out", "x": 9655, "count": 134.9},
      {"panel": "m2206", "part": "out", "x": 10230, "count": 124.2},
      {"panel": "m2206", "part": "out", "x": 10640, "count": 145.6},
      {"panel": "m2206", "part": "out", "x": 11280, "count": 120.6},
      {"panel": "m2206", "part": "out", "x": 11950, "count": 138.4},
      {"panel": "m2206", "part": "out", "x": 12670, "count": 117.1},
      {"panel": "m2206", "part": "out", "x": 13430, "count": 126},
      {"panel": "m2206", "part": "out", "x": 14230, "count": 115.3},
      {"panel": "m2206", "part": "out", "x": 15080, "count": 118.9},
      {"panel": "m2206", "part": "out", "x": 15980, "count": 111.7},
      {"panel": "m2206", "part": "out", "x": 16940, "count": 113.5},
      {"panel": "m2206", "part": "out", "x": 17950, "count": 97.5},
      {"panel": "m2206", "part": "out", "x": 19020, "count": 102.8},
      {"panel": "m2206", "part": "out", "x": 20160, "count": 92.2},
      {"panel": "m2206", "part": "out", "x": 21360, "count": 97.5},
      {"panel": "m2206", "part": "out", "x": 22640, "count": 76.2},
      {"panel": "m2206", "part": "out", "x": 23990, "count": 88.6},
      {"panel": "m2206", "part": "out", "x": 25430, "count": 85.1},
      {"panel": "m2206", "part": "out", "x": 26950, "count": 74.4},
      {"panel": "m2206", "part": "out", "x": 28560, "count": 70.8},
      {"panel": "m2206", "part": "out", "x": 30830, "count": 58.4},
      {"panel": "m2206", "part": "out", "x": 33570, "count": 56.6},
      {"panel": "m2206", "part": "out", "x": 35940, "count": 54.8},
      {"panel": "m2206", "part": "out", "x": 38460, "count": 51.2},
      {"panel": "m2206", "part": "out", "x": 40760, "count": 45.9},
      {"panel": "m2206", "part": "out", "x": 43620, "count": 46.8},
      {"panel": "m2206", "part": "out", "x": 46690, "count": 38.8},
      {"panel": "m2206", "part": "out", "x": 50490, "count": 42.3},
      {"panel": "m2206", "part": "out", "x": 54590, "count": 37},
      {"panel": "m2206", "part": "out", "x": 58440, "count": 38.8},
      {"panel": "m2206", "part": "out", "x": 62560, "count": 31.7},
      {"panel": "m2206", "part": "out", "x": 67640, "count": 38.8},
      {"panel": "m2206", "part": "out", "x": 73130, "count": 29.9},
      {"panel": "m2206", "part": "out", "x": 78270, "count": 33.5},
      {"panel": "m2206", "part": "out", "x": 84620, "count": 22.8},
      {"panel": "m2206", "part": "out", "x": 90580, "count": 29.9},
      {"panel": "m2206", "part": "out", "x": 100000, "count": 28},
      {"panel": "m2206", "part": "pe", "x": 100000, "count": 0},
      {"panel": "m2206", "part": "pe", "x": 100000, "count": 28},
      {"panel": "m2206", "part": "pe", "x": 101700, "count": 45.9},
      {"panel": "m2206", "part": "pe", "x": 107800, "count": 33.5},
      {"panel": "m2206", "part": "pe", "x": 115400, "count": 31.7},
      {"panel": "m2206", "part": "pe", "x": 123600, "count": 29.9},
      {"panel": "m2206", "part": "pe", "x": 133600, "count": 28.1},
      {"panel": "m2206", "part": "pe", "x": 144300, "count": 29.9},
      {"panel": "m2206", "part": "pe", "x": 154500, "count": 38.8},
      {"panel": "m2206", "part": "pe", "x": 162300, "count": 26.3},
      {"panel": "m2206", "part": "pe", "x": 175500, "count": 28.1},
      {"panel": "m2206", "part": "pe", "x": 187900, "count": 25.4},
      {"panel": "m2206", "part": "pe", "x": 201100, "count": 27.2},
      {"panel": "m2206", "part": "pe", "x": 217400, "count": 28.1},
      {"panel": "m2206", "part": "pe", "x": 235000, "count": 26.3},
      {"panel": "m2206", "part": "pe", "x": 251500, "count": 27.2},
      {"panel": "m2206", "part": "pe", "x": 269200, "count": 29},
      {"panel": "m2206", "part": "pe", "x": 291000, "count": 25.4},
      {"panel": "m2206", "part": "pe", "x": 314400, "count": 22.8},
      {"panel": "m2206", "part": "pe", "x": 336600, "count": 23.7},
      {"panel": "m2206", "part": "pe", "x": 370700, "count": 24.6},
      {"panel": "m2206", "part": "pe", "x": 389300, "count": 13.9},
      {"panel": "m2206", "part": "pe", "x": 429300, "count": 12.1},
      {"panel": "m2206", "part": "pe", "x": 473200, "count": 11.2},
      {"panel": "m2206", "part": "pe", "x": 521700, "count": 10.3},
      {"panel": "m2206", "part": "pe", "x": 575200, "count": 6.8},
      {"panel": "m2206", "part": "pe", "x": 632800, "count": 8.5},
      {"panel": "m2206", "part": "pe", "x": 698200, "count": 4.1},
      {"panel": "m2206", "part": "pe", "x": 769100, "count": 3.2},
      {"panel": "m2206", "part": "pe", "x": 847400, "count": 1.4},
      {"panel": "m2206", "part": "pe", "x": 933000, "count": 1.1},
      {"panel": "m2206", "part": "pe", "x": 990000, "count": 1},
      {"panel": "m2206", "part": "pe", "x": 1000000, "count": 15.7}
    ]
  },
  "columns": 5,
  "spacing": 0,
  "bounds": "flush",
  "align": "each",
  "concat": [
    {"width": 201, "height": 112, "view": {"stroke": "#000000", "strokeWidth": 2}, "data": {"values": [{"heading": "Surface\nMarker\nExpression"}]},
     "mark": {"type": "text", "lineBreak": "\n", "fontSize": 31, "fontWeight": "bold", "lineHeight": 37, "align": "center", "baseline": "alphabetic", "dx": 2, "dy": -25.3, "color": "#000000"},
     "encoding": {"text": {"field": "heading"}}},
    {"width": 416, "height": 112, "view": {"stroke": "#000000", "strokeWidth": 2}, "data": {"values": [{"heading": "Monocytes"}]},
     "mark": {"type": "text", "lineBreak": "\n", "fontSize": 31, "fontWeight": "bold", "lineHeight": 37, "align": "center", "baseline": "alphabetic", "dy": -25.3, "color": "#000000"},
     "encoding": {"text": {"field": "heading"}}},
    {"width": 414, "height": 112, "view": {"stroke": "#000000", "strokeWidth": 2}, "data": {"values": [{"heading": "Macrophages\n(M0)"}]},
     "mark": {"type": "text", "lineBreak": "\n", "fontSize": 31, "fontWeight": "bold", "lineHeight": 37, "align": "center", "baseline": "alphabetic", "dy": -25.3, "color": "#000000"},
     "encoding": {"text": {"field": "heading"}}},
    {"width": 415, "height": 112, "view": {"stroke": "#000000", "strokeWidth": 2}, "data": {"values": [{"heading": "Classically Activated\nMacrophage\n(M1)"}]},
     "mark": {"type": "text", "lineBreak": "\n", "fontSize": 31, "fontWeight": "bold", "lineHeight": 37, "align": "center", "baseline": "alphabetic", "dy": -25.3, "color": "#000000"},
     "encoding": {"text": {"field": "heading"}}},
    {"width": 430, "height": 112, "view": {"stroke": "#000000", "strokeWidth": 2}, "data": {"values": [{"heading": "Alternatively Activated\nMacrophage\n(M2)"}]},
     "mark": {"type": "text", "lineBreak": "\n", "fontSize": 31, "fontWeight": "bold", "lineHeight": 37, "align": "center", "baseline": "alphabetic", "dx": -7.5, "dy": -25.3, "color": "#000000"},
     "encoding": {"text": {"field": "heading"}}},

    {"width": 201, "height": 439, "view": {"stroke": "#000000", "strokeWidth": 2}, "data": {"values": [{"marker": "CD80"}]},
     "mark": {"type": "text", "fontSize": 31, "align": "left", "baseline": "alphabetic", "dx": -86.5, "dy": -133.5, "color": "#000000"},
     "encoding": {"text": {"field": "marker"}}},
    {
      "width": 416, "height": 439,
      "resolve": {"axis": {"x": "independent", "y": "independent"}},
      "layer": [
        {"data": {"name": "hist"}, "transform": [{"filter": "datum.panel == 'mono80'"}],
         "mark": {"type": "area"},
         "encoding": {
           "x": {"field": "x", "type": "quantitative",
             "scale": {"type": "log", "domain": [100, 1000000], "range": [64.7, 378], "nice": false},
             "axis": {"title": "FITC-H", "orient": "bottom", "offset": -80.3, "values": [100, 1000, 10000, 100000, 1000000], "tickSize": 8,
               "labelExpr": "datum.value == 100 ? '10²' : datum.value == 1000 ? '10³' : datum.value == 10000 ? '10⁴' : datum.value == 100000 ? '10⁵' : '10⁶'"}},
           "y": {"field": "count", "type": "quantitative", "stack": null,
             "scale": {"domain": [0, 787], "range": [358.7, 45.3], "nice": false},
             "axis": {"title": "Count", "orient": "left", "offset": -64.7, "values": [0, 500], "tickSize": 8}},
           "fill": {"field": "part", "type": "nominal", "scale": {"domain": ["out", "fitc", "pe"], "range": ["#808080", "#6d3a6e", "#3b93bf"]}, "legend": null}
         }},
        {"data": {"name": "hist"}, "transform": [{"filter": "datum.panel == 'mono80'"}],
         "mark": {"type": "line", "strokeWidth": 1},
         "encoding": {
           "x": {"field": "x", "type": "quantitative",
             "axis": {"title": null, "labels": false, "orient": "bottom", "offset": -80.3, "tickSize": 4,
               "values": [200,300,400,500,600,700,800,900,2000,3000,4000,5000,6000,7000,8000,9000,20000,30000,40000,50000,60000,70000,80000,90000,200000,300000,400000,500000,600000,700000,800000,900000]}},
           "y": {"field": "count", "type": "quantitative",
             "axis": {"title": null, "labels": false, "orient": "left", "offset": -64.7, "tickSize": 4, "values": [100, 200, 300, 400, 600, 700]}},
           "stroke": {"field": "part", "type": "nominal", "scale": {"domain": ["out", "fitc", "pe"], "range": ["#000000", "#7a1e7e", "#19b3f0"]}, "legend": null}}},
        {"data": {"name": "gates"}, "transform": [{"filter": "datum.panel == 'mono80'"}],
         "mark": {"type": "rect", "filled": false, "color": "#1a1a1a", "strokeWidth": 1.5},
         "encoding": {"x": {"datum": 100, "axis": null}, "x2": {"datum": 1000000}, "y": {"datum": 0, "axis": null}, "y2": {"datum": 787}}},
        {"data": {"name": "gates"}, "transform": [{"filter": "datum.panel == 'mono80'"}],
         "mark": {"type": "rule", "color": "#8a2b8e", "strokeWidth": 2},
         "encoding": {"x": {"field": "start", "type": "quantitative", "axis": null}, "x2": {"field": "end"}, "y": {"field": "level", "type": "quantitative", "axis": null}}},
        {"data": {"name": "gates"}, "transform": [{"filter": "datum.panel == 'mono80'"}],
         "mark": {"type": "tick", "orient": "vertical", "size": 15, "thickness": 2, "color": "#8a2b8e", "opacity": 1},
         "encoding": {"x": {"field": "start", "type": "quantitative", "axis": null}, "y": {"field": "level", "type": "quantitative", "axis": null}}},
        {"data": {"name": "gates"}, "transform": [{"filter": "datum.panel == 'mono80'"}],
         "mark": {"type": "tick", "orient": "vertical", "size": 15, "thickness": 2, "color": "#8a2b8e", "opacity": 1},
         "encoding": {"x": {"field": "end", "type": "quantitative", "axis": null}, "y": {"field": "level", "type": "quantitative", "axis": null}}},
        {"data": {"name": "gates"}, "transform": [{"filter": "datum.panel == 'mono80'"}],
         "mark": {"type": "text", "align": "left", "baseline": "alphabetic", "dy": -19, "fontSize": 16, "color": "#8e3a92"},
         "encoding": {"x": {"field": "start", "type": "quantitative", "axis": null}, "y": {"field": "level", "type": "quantitative", "axis": null}, "text": {"field": "label"}}},
        {"data": {"name": "gates"}, "transform": [{"filter": "datum.panel == 'mono80'"}],
         "mark": {"type": "text", "align": "center", "baseline": "alphabetic", "dx": 1, "dy": -7, "fontSize": 16, "color": "#222222"},
         "encoding": {"y": {"datum": 787, "axis": null}, "text": {"field": "title"}}},
        {"data": {"name": "gates"}, "transform": [{"filter": "datum.panel == 'mono80'"}],
         "mark": {"type": "text", "align": "center", "baseline": "middle", "angle": 270, "fontSize": 15, "color": "#222222"},
         "encoding": {"x": {"datum": 30, "axis": null}, "y": {"datum": 725, "axis": null}, "text": {"value": "(x10¹)"}}}
      ]
    },
    {
      "width": 414, "height": 439,
      "resolve": {"axis": {"x": "independent", "y": "independent"}},
      "layer": [
        {"data": {"name": "hist"}, "transform": [{"filter": "datum.panel == 'm080'"}],
         "mark": {"type": "area"},
         "encoding": {
           "x": {"field": "x", "type": "quantitative",
             "scale": {"type": "log", "domain": [100, 1000000], "range": [62.7, 382.7], "nice": false},
             "axis": {"title": "FITC-H", "orient": "bottom", "offset": -78, "values": [100, 1000, 10000, 100000, 1000000], "tickSize": 8,
               "labelExpr": "datum.value == 100 ? '10²' : datum.value == 1000 ? '10³' : datum.value == 10000 ? '10⁴' : datum.value == 100000 ? '10⁵' : '10⁶'"}},
           "y": {"field": "count", "type": "quantitative", "stack": null,
             "scale": {"domain": [0, 309.7], "range": [361, 42], "nice": false},
             "axis": {"title": "Count", "orient": "left", "offset": -62.7, "values": [0, 100, 200, 300], "tickSize": 8}},
           "fill": {"field": "part", "type": "nominal", "scale": {"domain": ["out", "fitc", "pe"], "range": ["#808080", "#6d3a6e", "#3b93bf"]}, "legend": null}
         }},
        {"data": {"name": "hist"}, "transform": [{"filter": "datum.panel == 'm080'"}],
         "mark": {"type": "line", "strokeWidth": 1},
         "encoding": {
           "x": {"field": "x", "type": "quantitative",
             "axis": {"title": null, "labels": false, "orient": "bottom", "offset": -78, "tickSize": 4,
               "values": [200,300,400,500,600,700,800,900,2000,3000,4000,5000,6000,7000,8000,9000,20000,30000,40000,50000,60000,70000,80000,90000,200000,300000,400000,500000,600000,700000,800000,900000]}},
           "y": {"field": "count", "type": "quantitative",
             "axis": {"title": null, "labels": false, "orient": "left", "offset": -62.7, "tickSize": 4, "values": [20,40,60,80,120,140,160,180,220,240,260,280]}},
           "stroke": {"field": "part", "type": "nominal", "scale": {"domain": ["out", "fitc", "pe"], "range": ["#000000", "#7a1e7e", "#19b3f0"]}, "legend": null}}},
        {"data": {"name": "gates"}, "transform": [{"filter": "datum.panel == 'm080'"}],
         "mark": {"type": "rect", "filled": false, "color": "#1a1a1a", "strokeWidth": 1.5},
         "encoding": {"x": {"datum": 100, "axis": null}, "x2": {"datum": 1000000}, "y": {"datum": 0, "axis": null}, "y2": {"datum": 309.7}}},
        {"data": {"name": "gates"}, "transform": [{"filter": "datum.panel == 'm080'"}],
         "mark": {"type": "rule", "color": "#8a2b8e", "strokeWidth": 2},
         "encoding": {"x": {"field": "start", "type": "quantitative", "axis": null}, "x2": {"field": "end"}, "y": {"field": "level", "type": "quantitative", "axis": null}}},
        {"data": {"name": "gates"}, "transform": [{"filter": "datum.panel == 'm080'"}],
         "mark": {"type": "tick", "orient": "vertical", "size": 15, "thickness": 2, "color": "#8a2b8e", "opacity": 1},
         "encoding": {"x": {"field": "start", "type": "quantitative", "axis": null}, "y": {"field": "level", "type": "quantitative", "axis": null}}},
        {"data": {"name": "gates"}, "transform": [{"filter": "datum.panel == 'm080'"}],
         "mark": {"type": "tick", "orient": "vertical", "size": 15, "thickness": 2, "color": "#8a2b8e", "opacity": 1},
         "encoding": {"x": {"field": "end", "type": "quantitative", "axis": null}, "y": {"field": "level", "type": "quantitative", "axis": null}}},
        {"data": {"name": "gates"}, "transform": [{"filter": "datum.panel == 'm080'"}],
         "mark": {"type": "text", "align": "left", "baseline": "alphabetic", "dy": -19, "fontSize": 16, "color": "#8e3a92"},
         "encoding": {"x": {"field": "start", "type": "quantitative", "axis": null}, "y": {"field": "level", "type": "quantitative", "axis": null}, "text": {"field": "label"}}},
        {"data": {"name": "gates"}, "transform": [{"filter": "datum.panel == 'm080'"}],
         "mark": {"type": "text", "align": "center", "baseline": "alphabetic", "dx": 4, "dy": -7, "fontSize": 16, "color": "#222222"},
         "encoding": {"y": {"datum": 309.7, "axis": null}, "text": {"field": "title"}}}
      ]
    },
    {
      "width": 415, "height": 439,
      "resolve": {"axis": {"x": "independent", "y": "independent"}},
      "layer": [
        {"data": {"name": "hist"}, "transform": [{"filter": "datum.panel == 'm180'"}],
         "mark": {"type": "area"},
         "encoding": {
           "x": {"field": "x", "type": "quantitative",
             "scale": {"type": "log", "domain": [100, 1000000], "range": [65.3, 374.7], "nice": false},
             "axis": {"title": "FITC-H", "orient": "bottom", "offset": -79.3, "values": [100, 1000, 10000, 100000, 1000000], "tickSize": 8,
               "labelExpr": "datum.value == 100 ? '10²' : datum.value == 1000 ? '10³' : datum.value == 10000 ? '10⁴' : datum.value == 100000 ? '10⁵' : '10⁶'"}},
           "y": {"field": "count", "type": "quantitative", "stack": null,
             "scale": {"domain": [0, 189.3], "range": [359.7, 35.3], "nice": false},
             "axis": {"title": "Count", "orient": "left", "offset": -65.3, "values": [0, 50, 100, 150], "tickSize": 8}},
           "fill": {"field": "part", "type": "nominal", "scale": {"domain": ["out", "fitc", "pe"], "range": ["#808080", "#6d3a6e", "#3b93bf"]}, "legend": null}
         }},
        {"data": {"name": "hist"}, "transform": [{"filter": "datum.panel == 'm180'"}],
         "mark": {"type": "line", "strokeWidth": 1},
         "encoding": {
           "x": {"field": "x", "type": "quantitative",
             "axis": {"title": null, "labels": false, "orient": "bottom", "offset": -79.3, "tickSize": 4,
               "values": [200,300,400,500,600,700,800,900,2000,3000,4000,5000,6000,7000,8000,9000,20000,30000,40000,50000,60000,70000,80000,90000,200000,300000,400000,500000,600000,700000,800000,900000]}},
           "y": {"field": "count", "type": "quantitative",
             "axis": {"title": null, "labels": false, "orient": "left", "offset": -65.3, "tickSize": 4, "values": [10,20,30,40,60,70,80,90,110,120,130,140,160,170,180]}},
           "stroke": {"field": "part", "type": "nominal", "scale": {"domain": ["out", "fitc", "pe"], "range": ["#000000", "#7a1e7e", "#19b3f0"]}, "legend": null}}},
        {"data": {"name": "gates"}, "transform": [{"filter": "datum.panel == 'm180'"}],
         "mark": {"type": "rect", "filled": false, "color": "#1a1a1a", "strokeWidth": 1.5},
         "encoding": {"x": {"datum": 100, "axis": null}, "x2": {"datum": 1000000}, "y": {"datum": 0, "axis": null}, "y2": {"datum": 189.3}}},
        {"data": {"name": "gates"}, "transform": [{"filter": "datum.panel == 'm180'"}],
         "mark": {"type": "rect", "color": "#ffffff", "opacity": 0.55},
         "encoding": {"x": {"field": "start", "type": "quantitative", "axis": null}, "x2": {"datum": 127000}, "y": {"datum": 101, "axis": null}, "y2": {"datum": 111}}},
        {"data": {"name": "gates"}, "transform": [{"filter": "datum.panel == 'm180'"}],
         "mark": {"type": "rule", "color": "#8a2b8e", "strokeWidth": 2},
         "encoding": {"x": {"field": "start", "type": "quantitative", "axis": null}, "x2": {"field": "end"}, "y": {"field": "level", "type": "quantitative", "axis": null}}},
        {"data": {"name": "gates"}, "transform": [{"filter": "datum.panel == 'm180'"}],
         "mark": {"type": "tick", "orient": "vertical", "size": 15, "thickness": 2, "color": "#8a2b8e", "opacity": 1},
         "encoding": {"x": {"field": "start", "type": "quantitative", "axis": null}, "y": {"field": "level", "type": "quantitative", "axis": null}}},
        {"data": {"name": "gates"}, "transform": [{"filter": "datum.panel == 'm180'"}],
         "mark": {"type": "tick", "orient": "vertical", "size": 15, "thickness": 2, "color": "#8a2b8e", "opacity": 1},
         "encoding": {"x": {"field": "end", "type": "quantitative", "axis": null}, "y": {"field": "level", "type": "quantitative", "axis": null}}},
        {"data": {"name": "gates"}, "transform": [{"filter": "datum.panel == 'm180'"}],
         "mark": {"type": "text", "align": "left", "baseline": "alphabetic", "dy": -19, "fontSize": 16, "color": "#8e3a92"},
         "encoding": {"x": {"field": "start", "type": "quantitative", "axis": null}, "y": {"field": "level", "type": "quantitative", "axis": null}, "text": {"field": "label"}}},
        {"data": {"name": "gates"}, "transform": [{"filter": "datum.panel == 'm180'"}],
         "mark": {"type": "text", "align": "center", "baseline": "alphabetic", "dx": 0, "dy": -7, "fontSize": 16, "color": "#222222"},
         "encoding": {"y": {"datum": 189.3, "axis": null}, "text": {"field": "title"}}}
      ]
    },
    {
      "width": 430, "height": 439,
      "resolve": {"axis": {"x": "independent", "y": "independent"}},
      "layer": [
        {"data": {"name": "hist"}, "transform": [{"filter": "datum.panel == 'm280'"}],
         "mark": {"type": "area"},
         "encoding": {
           "x": {"field": "x", "type": "quantitative",
             "scale": {"type": "log", "domain": [100, 1000000], "range": [64.7, 373], "nice": false},
             "axis": {"title": "FITC-H", "orient": "bottom", "offset": -76, "values": [100, 1000, 10000, 100000, 1000000], "tickSize": 8,
               "labelExpr": "datum.value == 100 ? '10²' : datum.value == 1000 ? '10³' : datum.value == 10000 ? '10⁴' : datum.value == 100000 ? '10⁵' : '10⁶'"}},
           "y": {"field": "count", "type": "quantitative", "stack": null,
             "scale": {"domain": [0, 279.8], "range": [363, 40.3], "nice": false},
             "axis": {"title": "Count", "orient": "left", "offset": -64.7, "values": [0, 100, 200], "tickSize": 8}},
           "fill": {"field": "part", "type": "nominal", "scale": {"domain": ["out", "fitc", "pe"], "range": ["#808080", "#6d3a6e", "#3b93bf"]}, "legend": null}
         }},
        {"data": {"name": "hist"}, "transform": [{"filter": "datum.panel == 'm280'"}],
         "mark": {"type": "line", "strokeWidth": 1},
         "encoding": {
           "x": {"field": "x", "type": "quantitative",
             "axis": {"title": null, "labels": false, "orient": "bottom", "offset": -76, "tickSize": 4,
               "values": [200,300,400,500,600,700,800,900,2000,3000,4000,5000,6000,7000,8000,9000,20000,30000,40000,50000,60000,70000,80000,90000,200000,300000,400000,500000,600000,700000,800000,900000]}},
           "y": {"field": "count", "type": "quantitative",
             "axis": {"title": null, "labels": false, "orient": "left", "offset": -64.7, "tickSize": 4, "values": [20,40,60,80,120,140,160,180,220,240,260]}},
           "stroke": {"field": "part", "type": "nominal", "scale": {"domain": ["out", "fitc", "pe"], "range": ["#000000", "#7a1e7e", "#19b3f0"]}, "legend": null}}},
        {"data": {"name": "gates"}, "transform": [{"filter": "datum.panel == 'm280'"}],
         "mark": {"type": "rect", "filled": false, "color": "#1a1a1a", "strokeWidth": 1.5},
         "encoding": {"x": {"datum": 100, "axis": null}, "x2": {"datum": 1000000}, "y": {"datum": 0, "axis": null}, "y2": {"datum": 279.8}}},
        {"data": {"name": "gates"}, "transform": [{"filter": "datum.panel == 'm280'"}],
         "mark": {"type": "rule", "color": "#8a2b8e", "strokeWidth": 2},
         "encoding": {"x": {"field": "start", "type": "quantitative", "axis": null}, "x2": {"field": "end"}, "y": {"field": "level", "type": "quantitative", "axis": null}}},
        {"data": {"name": "gates"}, "transform": [{"filter": "datum.panel == 'm280'"}],
         "mark": {"type": "tick", "orient": "vertical", "size": 15, "thickness": 2, "color": "#8a2b8e", "opacity": 1},
         "encoding": {"x": {"field": "start", "type": "quantitative", "axis": null}, "y": {"field": "level", "type": "quantitative", "axis": null}}},
        {"data": {"name": "gates"}, "transform": [{"filter": "datum.panel == 'm280'"}],
         "mark": {"type": "tick", "orient": "vertical", "size": 15, "thickness": 2, "color": "#8a2b8e", "opacity": 1},
         "encoding": {"x": {"field": "end", "type": "quantitative", "axis": null}, "y": {"field": "level", "type": "quantitative", "axis": null}}},
        {"data": {"name": "gates"}, "transform": [{"filter": "datum.panel == 'm280'"}],
         "mark": {"type": "text", "align": "left", "baseline": "alphabetic", "dy": -19, "fontSize": 16, "color": "#8e3a92"},
         "encoding": {"x": {"field": "start", "type": "quantitative", "axis": null}, "y": {"field": "level", "type": "quantitative", "axis": null}, "text": {"field": "label"}}},
        {"data": {"name": "gates"}, "transform": [{"filter": "datum.panel == 'm280'"}],
         "mark": {"type": "text", "align": "center", "baseline": "alphabetic", "dx": -8, "dy": -7, "fontSize": 16, "color": "#222222"},
         "encoding": {"y": {"datum": 279.8, "axis": null}, "text": {"field": "title"}}}
      ]
    },

    {"width": 201, "height": 450, "view": {"stroke": "#000000", "strokeWidth": 2}, "data": {"values": [{"marker": "CD206"}]},
     "mark": {"type": "text", "fontSize": 31, "align": "left", "baseline": "alphabetic", "dx": -86.5, "dy": -139, "color": "#000000"},
     "encoding": {"text": {"field": "marker"}}},
    {
      "width": 416, "height": 450,
      "resolve": {"axis": {"x": "independent", "y": "independent"}},
      "layer": [
        {"data": {"name": "hist"}, "transform": [{"filter": "datum.panel == 'mono206'"}],
         "mark": {"type": "area"},
         "encoding": {
           "x": {"field": "x", "type": "quantitative",
             "scale": {"type": "log", "domain": [100, 1000000], "range": [57.3, 392.7], "nice": false},
             "axis": {"title": "PE-A", "orient": "bottom", "offset": -73.7, "values": [100, 1000, 10000, 100000, 1000000], "tickSize": 8,
               "labelExpr": "datum.value == 100 ? '10²' : datum.value == 1000 ? '10³' : datum.value == 10000 ? '10⁴' : datum.value == 100000 ? '10⁵' : '10⁶'"}},
           "y": {"field": "count", "type": "quantitative", "stack": null,
             "scale": {"domain": [0, 298.2], "range": [376.3, 41.3], "nice": false},
             "axis": {"title": "Count", "orient": "left", "offset": -57.3, "values": [0, 100, 200], "tickSize": 8}},
           "fill": {"field": "part", "type": "nominal", "scale": {"domain": ["out", "fitc", "pe"], "range": ["#808080", "#6d3a6e", "#3b93bf"]}, "legend": null}
         }},
        {"data": {"name": "hist"}, "transform": [{"filter": "datum.panel == 'mono206'"}],
         "mark": {"type": "line", "strokeWidth": 1},
         "encoding": {
           "x": {"field": "x", "type": "quantitative",
             "axis": {"title": null, "labels": false, "orient": "bottom", "offset": -73.7, "tickSize": 4,
               "values": [200,300,400,500,600,700,800,900,2000,3000,4000,5000,6000,7000,8000,9000,20000,30000,40000,50000,60000,70000,80000,90000,200000,300000,400000,500000,600000,700000,800000,900000]}},
           "y": {"field": "count", "type": "quantitative",
             "axis": {"title": null, "labels": false, "orient": "left", "offset": -57.3, "tickSize": 4, "values": [20,40,60,80,120,140,160,180,220,240,260,280]}},
           "stroke": {"field": "part", "type": "nominal", "scale": {"domain": ["out", "fitc", "pe"], "range": ["#000000", "#7a1e7e", "#19b3f0"]}, "legend": null}}},
        {"data": {"name": "gates"}, "transform": [{"filter": "datum.panel == 'mono206'"}],
         "mark": {"type": "rect", "filled": false, "color": "#1a1a1a", "strokeWidth": 1.5},
         "encoding": {"x": {"datum": 100, "axis": null}, "x2": {"datum": 1000000}, "y": {"datum": 0, "axis": null}, "y2": {"datum": 298.2}}},
        {"data": {"name": "gates"}, "transform": [{"filter": "datum.panel == 'mono206'"}],
         "mark": {"type": "rule", "color": "#1eb0ee", "strokeWidth": 1.6},
         "encoding": {"x": {"field": "start", "type": "quantitative", "axis": null}, "x2": {"field": "end"}, "y": {"field": "level", "type": "quantitative", "axis": null}}},
        {"data": {"name": "gates"}, "transform": [{"filter": "datum.panel == 'mono206'"}],
         "mark": {"type": "tick", "orient": "vertical", "size": 15, "thickness": 2, "color": "#1eb0ee", "opacity": 1},
         "encoding": {"x": {"field": "start", "type": "quantitative", "axis": null}, "y": {"field": "level", "type": "quantitative", "axis": null}}},
        {"data": {"name": "gates"}, "transform": [{"filter": "datum.panel == 'mono206'"}],
         "mark": {"type": "text", "align": "left", "baseline": "alphabetic", "dy": -19, "fontSize": 16, "color": "#21aeec"},
         "encoding": {"x": {"field": "start", "type": "quantitative", "axis": null}, "y": {"field": "level", "type": "quantitative", "axis": null}, "text": {"field": "label"}}},
        {"data": {"name": "gates"}, "transform": [{"filter": "datum.panel == 'mono206'"}],
         "mark": {"type": "text", "align": "center", "baseline": "alphabetic", "dx": 4.5, "dy": -7, "fontSize": 16, "color": "#222222"},
         "encoding": {"y": {"datum": 298.2, "axis": null}, "text": {"field": "title"}}}
      ]
    },
    {
      "width": 414, "height": 450,
      "resolve": {"axis": {"x": "independent", "y": "independent"}},
      "layer": [
        {"data": {"name": "hist"}, "transform": [{"filter": "datum.panel == 'm0206'"}],
         "mark": {"type": "area"},
         "encoding": {
           "x": {"field": "x", "type": "quantitative",
             "scale": {"type": "log", "domain": [100, 1000000], "range": [60.3, 372.7], "nice": false},
             "axis": {"title": "PE-A", "orient": "bottom", "offset": -77, "values": [100, 1000, 10000, 100000, 1000000], "tickSize": 8,
               "labelExpr": "datum.value == 100 ? '10²' : datum.value == 1000 ? '10³' : datum.value == 10000 ? '10⁴' : datum.value == 100000 ? '10⁵' : '10⁶'"}},
           "y": {"field": "count", "type": "quantitative", "stack": null,
             "scale": {"domain": [0, 262.7], "range": [373, 44.7], "nice": false},
             "axis": {"title": "Count", "orient": "left", "offset": -60.3, "values": [0, 100, 200], "tickSize": 8}},
           "fill": {"field": "part", "type": "nominal", "scale": {"domain": ["out", "fitc", "pe"], "range": ["#808080", "#6d3a6e", "#3b93bf"]}, "legend": null}
         }},
        {"data": {"name": "hist"}, "transform": [{"filter": "datum.panel == 'm0206'"}],
         "mark": {"type": "line", "strokeWidth": 1},
         "encoding": {
           "x": {"field": "x", "type": "quantitative",
             "axis": {"title": null, "labels": false, "orient": "bottom", "offset": -77, "tickSize": 4,
               "values": [200,300,400,500,600,700,800,900,2000,3000,4000,5000,6000,7000,8000,9000,20000,30000,40000,50000,60000,70000,80000,90000,200000,300000,400000,500000,600000,700000,800000,900000]}},
           "y": {"field": "count", "type": "quantitative",
             "axis": {"title": null, "labels": false, "orient": "left", "offset": -60.3, "tickSize": 4, "values": [20,40,60,80,120,140,160,180,220,240]}},
           "stroke": {"field": "part", "type": "nominal", "scale": {"domain": ["out", "fitc", "pe"], "range": ["#000000", "#7a1e7e", "#19b3f0"]}, "legend": null}}},
        {"data": {"name": "gates"}, "transform": [{"filter": "datum.panel == 'm0206'"}],
         "mark": {"type": "rect", "filled": false, "color": "#1a1a1a", "strokeWidth": 1.5},
         "encoding": {"x": {"datum": 100, "axis": null}, "x2": {"datum": 1000000}, "y": {"datum": 0, "axis": null}, "y2": {"datum": 262.7}}},
        {"data": {"name": "gates"}, "transform": [{"filter": "datum.panel == 'm0206'"}],
         "mark": {"type": "rule", "color": "#1eb0ee", "strokeWidth": 1.6},
         "encoding": {"x": {"field": "start", "type": "quantitative", "axis": null}, "x2": {"field": "end"}, "y": {"field": "level", "type": "quantitative", "axis": null}}},
        {"data": {"name": "gates"}, "transform": [{"filter": "datum.panel == 'm0206'"}],
         "mark": {"type": "tick", "orient": "vertical", "size": 15, "thickness": 2, "color": "#1eb0ee", "opacity": 1},
         "encoding": {"x": {"field": "start", "type": "quantitative", "axis": null}, "y": {"field": "level", "type": "quantitative", "axis": null}}},
        {"data": {"name": "gates"}, "transform": [{"filter": "datum.panel == 'm0206'"}],
         "mark": {"type": "text", "align": "left", "baseline": "alphabetic", "dy": -19, "fontSize": 16, "color": "#21aeec"},
         "encoding": {"x": {"field": "start", "type": "quantitative", "axis": null}, "y": {"field": "level", "type": "quantitative", "axis": null}, "text": {"field": "label"}}},
        {"data": {"name": "gates"}, "transform": [{"filter": "datum.panel == 'm0206'"}],
         "mark": {"type": "text", "align": "center", "baseline": "alphabetic", "dx": -2, "dy": -7, "fontSize": 16, "color": "#222222"},
         "encoding": {"y": {"datum": 262.7, "axis": null}, "text": {"field": "title"}}}
      ]
    },
    {
      "width": 415, "height": 450,
      "resolve": {"axis": {"x": "independent", "y": "independent"}},
      "layer": [
        {"data": {"name": "hist"}, "transform": [{"filter": "datum.panel == 'm1206'"}],
         "mark": {"type": "area"},
         "encoding": {
           "x": {"field": "x", "type": "quantitative",
             "scale": {"type": "log", "domain": [100, 1000000], "range": [62.7, 387], "nice": false},
             "axis": {"title": "PE-A", "orient": "bottom", "offset": -74.3, "values": [100, 1000, 10000, 100000, 1000000], "tickSize": 8,
               "labelExpr": "datum.value == 100 ? '10²' : datum.value == 1000 ? '10³' : datum.value == 10000 ? '10⁴' : datum.value == 100000 ? '10⁵' : '10⁶'"}},
           "y": {"field": "count", "type": "quantitative", "stack": null,
             "scale": {"domain": [0, 255.2], "range": [375.7, 45.7], "nice": false},
             "axis": {"title": "Count", "orient": "left", "offset": -62.7, "values": [0, 100, 200], "tickSize": 8}},
           "fill": {"field": "part", "type": "nominal", "scale": {"domain": ["out", "fitc", "pe"], "range": ["#808080", "#6d3a6e", "#3b93bf"]}, "legend": null}
         }},
        {"data": {"name": "hist"}, "transform": [{"filter": "datum.panel == 'm1206'"}],
         "mark": {"type": "line", "strokeWidth": 1},
         "encoding": {
           "x": {"field": "x", "type": "quantitative",
             "axis": {"title": null, "labels": false, "orient": "bottom", "offset": -74.3, "tickSize": 4,
               "values": [200,300,400,500,600,700,800,900,2000,3000,4000,5000,6000,7000,8000,9000,20000,30000,40000,50000,60000,70000,80000,90000,200000,300000,400000,500000,600000,700000,800000,900000]}},
           "y": {"field": "count", "type": "quantitative",
             "axis": {"title": null, "labels": false, "orient": "left", "offset": -62.7, "tickSize": 4, "values": [20,40,60,80,120,140,160,180,220,240]}},
           "stroke": {"field": "part", "type": "nominal", "scale": {"domain": ["out", "fitc", "pe"], "range": ["#000000", "#7a1e7e", "#19b3f0"]}, "legend": null}}},
        {"data": {"name": "gates"}, "transform": [{"filter": "datum.panel == 'm1206'"}],
         "mark": {"type": "rect", "filled": false, "color": "#1a1a1a", "strokeWidth": 1.5},
         "encoding": {"x": {"datum": 100, "axis": null}, "x2": {"datum": 1000000}, "y": {"datum": 0, "axis": null}, "y2": {"datum": 255.2}}},
        {"data": {"name": "gates"}, "transform": [{"filter": "datum.panel == 'm1206'"}],
         "mark": {"type": "rule", "color": "#1eb0ee", "strokeWidth": 1.6},
         "encoding": {"x": {"field": "start", "type": "quantitative", "axis": null}, "x2": {"field": "end"}, "y": {"field": "level", "type": "quantitative", "axis": null}}},
        {"data": {"name": "gates"}, "transform": [{"filter": "datum.panel == 'm1206'"}],
         "mark": {"type": "tick", "orient": "vertical", "size": 15, "thickness": 2, "color": "#1eb0ee", "opacity": 1},
         "encoding": {"x": {"field": "start", "type": "quantitative", "axis": null}, "y": {"field": "level", "type": "quantitative", "axis": null}}},
        {"data": {"name": "gates"}, "transform": [{"filter": "datum.panel == 'm1206'"}],
         "mark": {"type": "text", "align": "left", "baseline": "alphabetic", "dy": -19, "fontSize": 16, "color": "#21aeec"},
         "encoding": {"x": {"field": "start", "type": "quantitative", "axis": null}, "y": {"field": "level", "type": "quantitative", "axis": null}, "text": {"field": "label"}}},
        {"data": {"name": "gates"}, "transform": [{"filter": "datum.panel == 'm1206'"}],
         "mark": {"type": "text", "align": "center", "baseline": "alphabetic", "dx": 5, "dy": -7, "fontSize": 16, "color": "#222222"},
         "encoding": {"y": {"datum": 255.2, "axis": null}, "text": {"field": "title"}}}
      ]
    },
    {
      "width": 430, "height": 450,
      "resolve": {"axis": {"x": "independent", "y": "independent"}},
      "layer": [
        {"data": {"name": "hist"}, "transform": [{"filter": "datum.panel == 'm2206'"}],
         "mark": {"type": "area"},
         "encoding": {
           "x": {"field": "x", "type": "quantitative",
             "scale": {"type": "log", "domain": [100, 1000000], "range": [58.7, 374.3], "nice": false},
             "axis": {"title": "PE-A", "orient": "bottom", "offset": -74.3, "values": [100, 1000, 10000, 100000, 1000000], "tickSize": 8,
               "labelExpr": "datum.value == 100 ? '10²' : datum.value == 1000 ? '10³' : datum.value == 10000 ? '10⁴' : datum.value == 100000 ? '10⁵' : '10⁶'"}},
           "y": {"field": "count", "type": "quantitative", "stack": null,
             "scale": {"domain": [0, 176.9], "range": [375.7, 46.3], "nice": false},
             "axis": {"title": "Count", "orient": "left", "offset": -58.7, "values": [0, 50, 100, 150], "tickSize": 8}},
           "fill": {"field": "part", "type": "nominal", "scale": {"domain": ["out", "fitc", "pe"], "range": ["#808080", "#6d3a6e", "#3b93bf"]}, "legend": null}
         }},
        {"data": {"name": "hist"}, "transform": [{"filter": "datum.panel == 'm2206'"}],
         "mark": {"type": "line", "strokeWidth": 1},
         "encoding": {
           "x": {"field": "x", "type": "quantitative",
             "axis": {"title": null, "labels": false, "orient": "bottom", "offset": -74.3, "tickSize": 4,
               "values": [200,300,400,500,600,700,800,900,2000,3000,4000,5000,6000,7000,8000,9000,20000,30000,40000,50000,60000,70000,80000,90000,200000,300000,400000,500000,600000,700000,800000,900000]}},
           "y": {"field": "count", "type": "quantitative",
             "axis": {"title": null, "labels": false, "orient": "left", "offset": -58.7, "tickSize": 4, "values": [10,20,30,40,60,70,80,90,110,120,130,140,160,170]}},
           "stroke": {"field": "part", "type": "nominal", "scale": {"domain": ["out", "fitc", "pe"], "range": ["#000000", "#7a1e7e", "#19b3f0"]}, "legend": null}}},
        {"data": {"name": "gates"}, "transform": [{"filter": "datum.panel == 'm2206'"}],
         "mark": {"type": "rect", "filled": false, "color": "#1a1a1a", "strokeWidth": 1.5},
         "encoding": {"x": {"datum": 100, "axis": null}, "x2": {"datum": 1000000}, "y": {"datum": 0, "axis": null}, "y2": {"datum": 176.9}}},
        {"data": {"name": "gates"}, "transform": [{"filter": "datum.panel == 'm2206'"}],
         "mark": {"type": "rule", "color": "#1eb0ee", "strokeWidth": 1.6},
         "encoding": {"x": {"field": "start", "type": "quantitative", "axis": null}, "x2": {"field": "end"}, "y": {"field": "level", "type": "quantitative", "axis": null}}},
        {"data": {"name": "gates"}, "transform": [{"filter": "datum.panel == 'm2206'"}],
         "mark": {"type": "tick", "orient": "vertical", "size": 15, "thickness": 2, "color": "#1eb0ee", "opacity": 1},
         "encoding": {"x": {"field": "start", "type": "quantitative", "axis": null}, "y": {"field": "level", "type": "quantitative", "axis": null}}},
        {"data": {"name": "gates"}, "transform": [{"filter": "datum.panel == 'm2206'"}],
         "mark": {"type": "text", "align": "left", "baseline": "alphabetic", "dy": -19, "fontSize": 16, "color": "#21aeec"},
         "encoding": {"x": {"field": "start", "type": "quantitative", "axis": null}, "y": {"field": "level", "type": "quantitative", "axis": null}, "text": {"field": "label"}}},
        {"data": {"name": "gates"}, "transform": [{"filter": "datum.panel == 'm2206'"}],
         "mark": {"type": "text", "align": "center", "baseline": "alphabetic", "dx": -10.7, "dy": -7, "fontSize": 16, "color": "#222222"},
         "encoding": {"y": {"datum": 176.9, "axis": null}, "text": {"field": "title"}}}
      ]
    }
  ]
}
